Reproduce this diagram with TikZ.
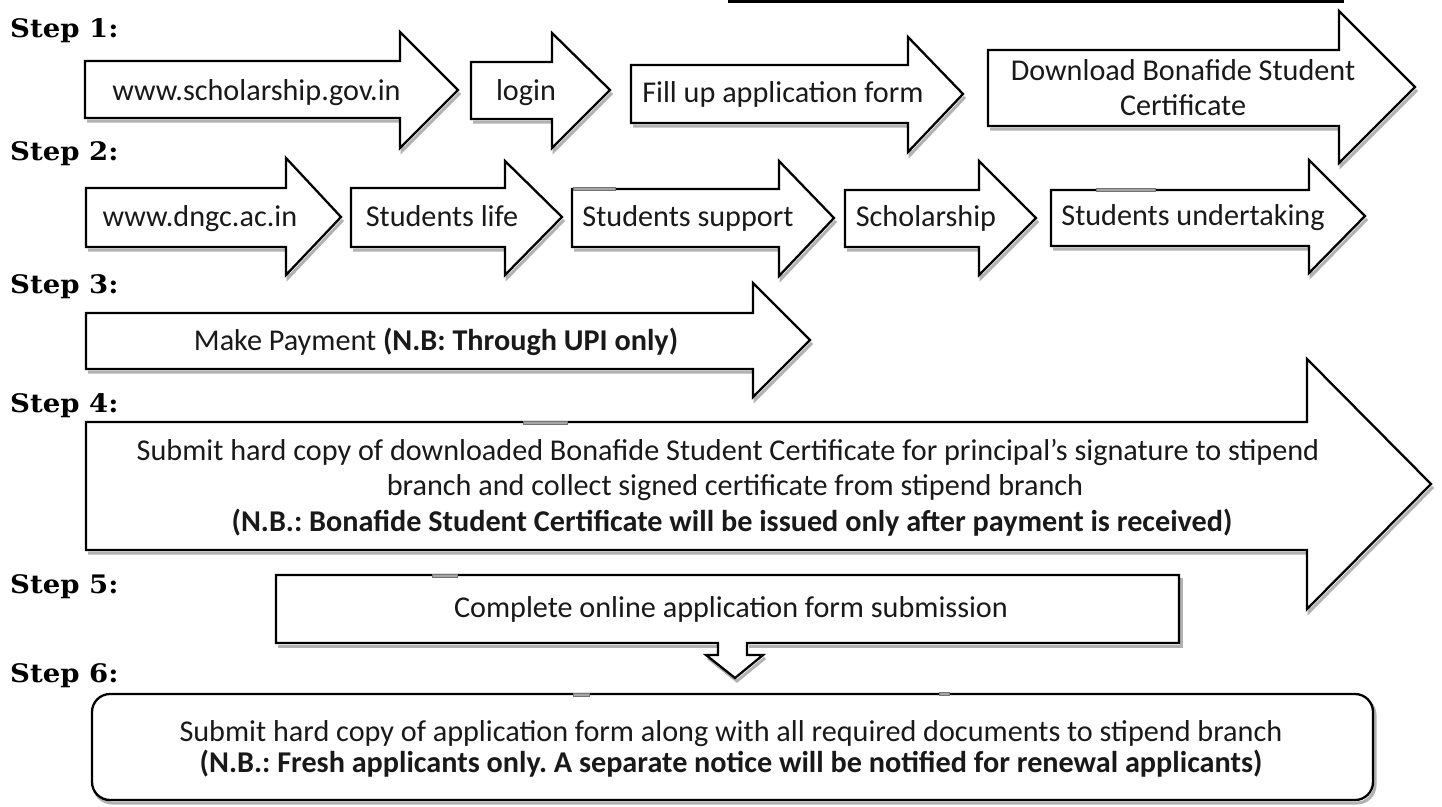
\documentclass[tikz,border=0pt]{standalone}
\usepackage{fontspec}
\setmainfont{Carlito}
\newfontfamily\stepfont[FakeStretch=1.08]{DejaVu Serif}
\frenchspacing
\begin{document}
\begin{tikzpicture}[x=1pt,y=-1pt,
  blockshape/.style={draw=black,fill=white,line width=2.3pt,line join=miter},
  shadeline/.style={draw=black!30,line width=3pt,xshift=2pt,yshift=-3pt},
  txt/.style={font=\fontsize{30.2}{35}\selectfont,inner sep=0pt,anchor=base,text=black!90},
  steplbl/.style={font=\stepfont\bfseries\fontsize{25.5}{30}\selectfont,inner sep=0pt,anchor=base west},
  handle/.style={fill=black!35,draw=black!55,line width=0.6pt}]
\useasboundingbox (0,0) rectangle (1442,806);
\fill[white] (0,0) rectangle (1442,806);
% right-pointing block arrow: left, top, bottom, head base x, head top, head bottom, tip x, tip y
\newcommand\rarrow[8]{%
  \draw[shadeline] (#1,#3) -- (#4,#3) -- (#4,#6) -- (#7,#8);
  \draw[blockshape] (#1,#2) -- (#4,#2) -- (#4,#5) -- (#7,#8) -- (#4,#6) -- (#4,#3) -- (#1,#3) -- cycle;}
% top cut line
\draw[line width=3pt] (728,1) -- (1344,1);
% step labels
\node[steplbl] (s1) at (10,37) {Step 1:};
\node[steplbl] (s2) at (10,160) {Step 2:};
\node[steplbl] (s3) at (10,293) {Step 3:};
\node[steplbl] (s4) at (10,412) {Step 4:};
\node[steplbl] (s5) at (10,593) {Step 5:};
\node[steplbl] (s6) at (10,682) {Step 6:};
% row 1
\rarrow{85}{61}{118}{400}{32}{148}{458}{90}
\rarrow{471}{62}{119}{552}{33}{148}{610}{90}
\rarrow{631}{65}{123}{908}{37}{152}{963}{94}
\rarrow{988}{50}{126}{1339}{11}{163}{1415}{87}
\node[txt] (a1) at (256.5,100) {www.scholarship.gov.in};
\node[txt] (a2) at (526,100) {login};
\node[txt] (a3) at (783,102) {Fill up application form};
\node[txt] (a4) at (1183,80) {Download Bonafide Student};
\node[txt] (a4b) at (1183,115) {Certificate};
% row 2
\rarrow{86}{188}{247}{286}{158}{275}{341}{217}
\rarrow{351}{188}{247}{505}{161}{275}{562}{217}
\rarrow{572}{189}{247}{779}{161}{276}{834}{218}
\rarrow{845}{190}{247}{979}{161}{275}{1036}{218}
\rarrow{1051}{190}{246}{1309}{160}{273}{1365}{216}
\node[txt] (b1) at (200,226) {www.dngc.ac.in};
\node[txt] (b2) at (442,226) {Students life};
\node[txt] (b3) at (688,226) {Students support};
\node[txt] (b4) at (926,226) {Scholarship};
\node[txt] (b5) at (1193,225) {Students undertaking};
\draw[handle] (573,187.5) rectangle (615,190.5);
\draw[handle] (1096,188.5) rectangle (1155,191.5);
% row 3
\rarrow{86}{313}{369}{753}{283}{397}{810}{340}
\node[txt] (c1) at (436,350) {Make Payment \textbf{(N.B: Through UPI only)}};
% row 4
\rarrow{86}{422}{550}{1307}{359}{609}{1431}{484}
\draw[handle] (523,421) rectangle (567,424.5);
\node[txt] (d1) at (728,460) {Submit hard copy of downloaded Bonafide Student Certificate for principal’s signature to stipend};
\node[txt] (d2) at (735,495) {branch and collect signed certificate from stipend branch};
\node[txt] (d3) at (732,531) {\textbf{(N.B.: Bonafide Student Certificate will be issued only after payment is received)}};
% row 5 : box with down arrow
\draw[shadeline] (276,643) -- (718,643) (747,643) -- (1179,643) -- (1179,575);
\draw[shadeline] (706,655) -- (735,678) -- (763,655);
\draw[blockshape] (276,575) -- (1179,575) -- (1179,643) -- (747,643) -- (747,655) -- (763,655) -- (735,678) -- (706,655) -- (718,655) -- (718,643) -- (276,643) -- cycle;
\draw[handle] (432,574) rectangle (457,577.5);
\node[txt] (e1) at (731,617) {Complete online application form submission};
% row 6 : rounded box
\draw[shadeline,rounded corners=18pt] (92,694) rectangle (1373,800);
\draw[blockshape,rounded corners=18pt] (92,694) rectangle (1373,800);
\draw[handle] (573,693) rectangle (589,696);
\draw[handle] (939,692.5) rectangle (949,695.5);
\node[txt] (f1) at (731,741) {Submit hard copy of application form along with all required documents to stipend branch};
\node[txt] (f2) at (731,772) {\textbf{(N.B.: Fresh applicants only. A separate notice will be notified for renewal applicants)}};
\end{tikzpicture}
\end{document}
